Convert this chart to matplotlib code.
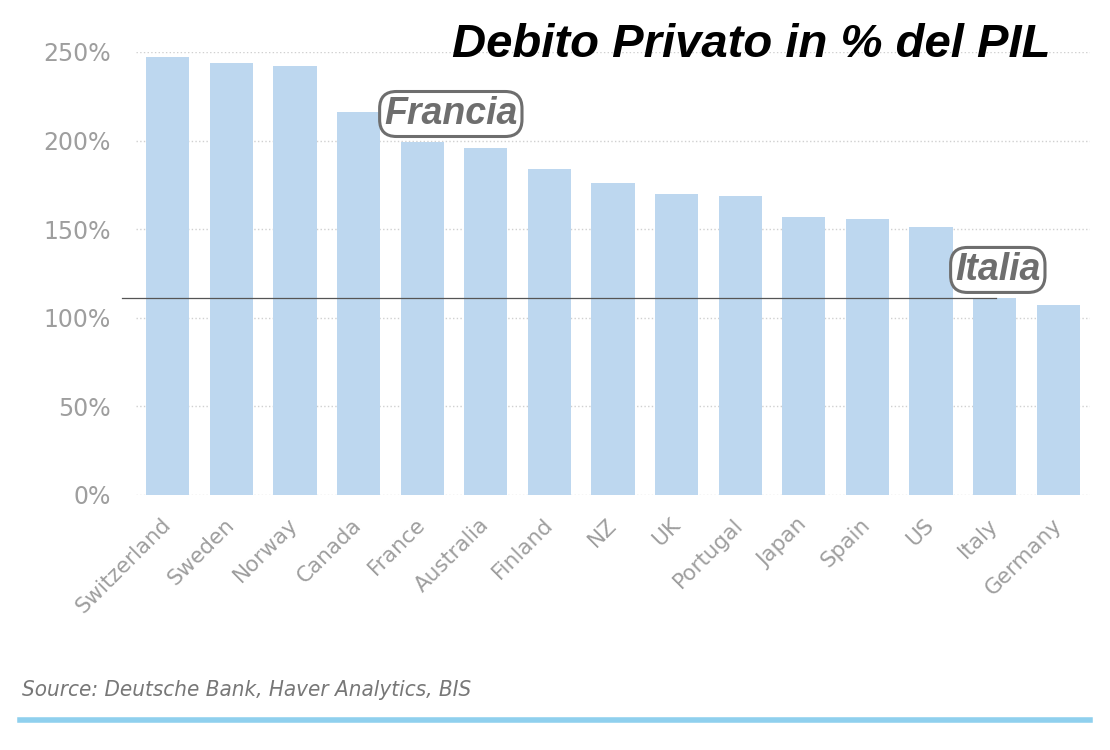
import matplotlib
matplotlib.use("Agg")
import matplotlib.pyplot as plt
import matplotlib.transforms as mtransforms
from matplotlib.lines import Line2D

# data
countries = ["Switzerland", "Sweden", "Norway", "Canada", "France", "Australia",
             "Finland", "NZ", "UK", "Portugal", "Japan", "Spain", "US", "Italy", "Germany"]
debt_pct = [247, 244, 242, 216, 199, 196, 184, 176, 170, 169, 157, 156, 151, 111, 107]
y_ticks = [0, 50, 100, 150, 200, 250]
y_labels = ["0%", "50%", "100%", "150%", "200%", "250%"]

title = "Debito Privato in % del PIL"
source = "Source: Deutsche Bank, Haver Analytics, BIS"

BAR = "#bdd7ef"
TICK = "#9e9e9e"
BOX = "#6e6e6e"


def main():
    fig = plt.figure(figsize=(11.1, 7.5), dpi=100)
    fig.patch.set_facecolor("white")
    ax = fig.add_axes([0.1225, 0.34, 0.8595, 0.5907])

    x = range(len(countries))
    ax.bar(x, debt_pct, width=0.68, color=BAR, zorder=2)

    ax.set_xlim(-0.5, len(countries) - 0.5)
    ax.set_ylim(0, 250)
    ax.set_yticks(y_ticks)
    ax.set_yticklabels(y_labels, fontsize=17, color=TICK)
    ax.set_xticks(list(x))
    ax.set_xticklabels(countries, fontsize=15.5, color=TICK, rotation=45,
                       ha="right", rotation_mode="anchor")
    ax.tick_params(axis="y", length=0, pad=18)
    ax.tick_params(axis="x", length=0, pad=14)
    # nudge the slanted labels a bit to the left, as in the source chart
    shift = mtransforms.ScaledTranslation(-7 / 100, 0, fig.dpi_scale_trans)
    for lab in ax.get_xticklabels():
        lab.set_transform(lab.get_transform() + shift)

    ax.grid(axis="y", color="#d0d0d0", linestyle=":", linewidth=1, zorder=0)
    ax.set_axisbelow(True)
    for s in ax.spines.values():
        s.set_visible(False)

    # Italy reference line
    italy_level = debt_pct[countries.index("Italy")]
    ax.axhline(italy_level, xmin=-0.015, xmax=0.901, color="#555555",
               linewidth=0.9, zorder=3, clip_on=False)

    box = dict(boxstyle="round,pad=0.12,rounding_size=0.45", facecolor="white",
               edgecolor=BOX, linewidth=2.2)
    ax.text(4.45, 215, "Francia", fontsize=27, fontweight="bold", style="italic",
            family="Liberation Sans", color=BOX, ha="center", va="center",
            bbox=box, zorder=5)
    ax.text(13.05, 127, "Italia", fontsize=27, fontweight="bold", style="italic",
            family="Liberation Sans", color=BOX, ha="center", va="center",
            bbox=box, zorder=5)

    fig.text(0.946, 0.94, title, fontsize=34, fontweight="bold", style="italic",
             family="Liberation Sans", color="black", ha="right", va="center")

    fig.text(22 / 1110, 1 - 690 / 750, source, fontsize=16, style="italic",
             fontstretch="condensed", color="#777777", ha="left", va="center")
    fig.add_artist(Line2D([20 / 1110, 1090 / 1110], [1 - 720 / 750] * 2,
                          color="#8fd0ee", linewidth=4, transform=fig.transFigure))

    fig.savefig("out.png", dpi=100, facecolor="white")


if __name__ == "__main__":
    main()
